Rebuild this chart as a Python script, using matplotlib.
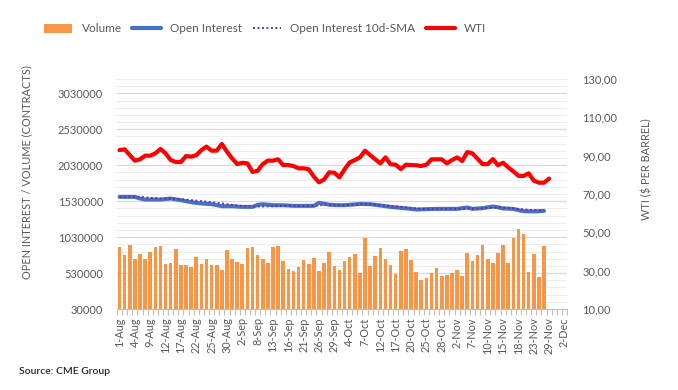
import matplotlib
matplotlib.use("Agg")
import matplotlib.pyplot as plt
import numpy as np
from matplotlib.ticker import FixedLocator, FuncFormatter
from matplotlib.patches import Patch
from matplotlib.lines import Line2D

plt.rcParams['font.family'] = ['Lato', 'DejaVu Sans']

# ---- data ----
n_categories = 88  # business days 1-Aug .. 2-Dec
tick_labels = ['1-Aug', '4-Aug', '9-Aug', '12-Aug', '17-Aug', '22-Aug', '25-Aug', '30-Aug',
               '2-Sep', '8-Sep', '13-Sep', '16-Sep', '21-Sep', '26-Sep', '29-Sep',
               '4-Oct', '7-Oct', '12-Oct', '17-Oct', '20-Oct', '25-Oct', '28-Oct',
               '2-Nov', '7-Nov', '10-Nov', '15-Nov', '18-Nov', '23-Nov', '29-Nov', '2-Dec']

volume_k = [887, 780, 919, 724, 794, 724, 822, 891, 905, 655,
            669, 863, 641, 641, 613, 752, 655, 724, 641, 641,
            572, 849, 724, 683, 655, 877, 891, 780, 724, 669,
            891, 905, 697, 586, 558, 613, 710, 655, 738, 558,
            669, 822, 627, 571, 697, 752, 794, 530, 1016, 627,
            766, 877, 724, 641, 516, 836, 863, 710, 544, 433,
            461, 530, 599, 488, 502, 530, 572, 488, 808, 697,
            780, 919, 724, 669, 808, 919, 669, 1016, 1141, 1072,
            544, 794, 474, 905]

open_interest_k = [1590, 1590, 1590, 1590, 1567, 1553, 1553, 1553, 1553, 1560,
                   1567, 1555, 1544, 1530, 1516, 1507, 1498, 1493, 1488, 1474,
                   1460, 1460, 1460, 1455, 1451, 1451, 1451, 1479, 1488, 1481,
                   1474, 1474, 1474, 1470, 1465, 1465, 1465, 1465, 1465, 1507,
                   1495, 1480, 1476, 1474, 1474, 1479, 1485, 1492, 1490, 1488,
                   1479, 1470, 1460, 1451, 1444, 1437, 1430, 1423, 1414, 1416,
                   1419, 1421, 1423, 1423, 1423, 1423, 1423, 1433, 1442, 1423,
                   1428, 1433, 1445, 1456, 1445, 1428, 1426, 1423, 1405, 1391,
                   1389, 1387, 1391, 1395]

oi_sma_k = [1590, 1590, 1590, 1590, 1590, 1583, 1576, 1572, 1567, 1567,
            1567, 1562, 1558, 1551, 1544, 1537, 1530, 1523, 1516, 1507,
            1498, 1488, 1479, 1470, 1460, 1458, 1456, 1456, 1456, 1458,
            1460, 1462, 1465, 1465, 1465, 1465, 1465, 1465, 1465, 1470,
            1484, 1484, 1479, 1476, 1474, 1479, 1484, 1488, 1488, 1488,
            1484, 1477, 1470, 1460, 1456, 1449, 1442, 1435, 1428, 1425,
            1423, 1423, 1423, 1423, 1423, 1423, 1423, 1425, 1428, 1428,
            1428, 1433, 1437, 1440, 1442, 1440, 1437, 1430, 1423, 1416,
            1409, 1407, 1405, 1405]

wti = [92.9, 93.3, 90.3, 87.4, 88.1, 90.0, 90.0, 91.2, 93.5, 91.2,
       87.7, 86.7, 86.7, 89.8, 89.5, 90.2, 92.9, 94.7, 92.6, 92.6,
       96.1, 92.1, 88.6, 85.6, 86.3, 86.0, 81.5, 82.1, 85.6, 87.4,
       87.4, 88.1, 85.1, 85.1, 84.6, 83.4, 83.4, 82.9, 79.0, 76.1,
       77.6, 81.3, 81.1, 78.7, 82.9, 86.5, 87.7, 89.1, 92.6, 90.3,
       88.1, 86.0, 89.1, 85.5, 85.3, 83.0, 85.3, 85.1, 85.0, 84.6,
       85.3, 88.1, 88.1, 88.1, 86.0, 87.7, 89.1, 87.2, 91.9, 91.2,
       88.4, 85.6, 85.6, 88.2, 85.0, 86.3, 83.9, 81.8, 79.5, 79.4,
       80.8, 77.0, 75.9, 75.9, 78.0]

# ---- styling ----
TXT = '#595959'
C_VOL = '#F79646'
C_OI = '#4472C4'
C_SMA = '#7030A0'
C_WTI = '#FF0000'

fig = plt.figure(figsize=(6.78, 3.90), dpi=100)
ax = fig.add_axes([117/678, 1-309/390, 450/678, 230/390])
ax2 = ax.twinx()

vol = np.array(volume_k) * 1000
oi = np.array(open_interest_k) * 1000
sma = np.array(oi_sma_k) * 1000

ax.bar(np.arange(len(vol)), vol - 30000, bottom=30000, width=0.7, color=C_VOL, zorder=2)
ax.plot(np.arange(len(oi)), oi, color=C_OI, lw=2.9, solid_capstyle='round', zorder=3)
ax.plot(np.arange(len(sma)), sma, color=C_SMA, lw=1.4, linestyle=(0, (1, 1.3)), zorder=4)
ax2.plot(np.arange(len(wti)), wti, color=C_WTI, lw=3.0, solid_capstyle='round',
         solid_joinstyle='round', zorder=5)

ax.set_xlim(-0.5, n_categories - 0.5)
ax.set_ylim(30000, 3230000)
ax.set_yticks(np.arange(30000, 3030001, 500000))
ax.yaxis.set_minor_locator(FixedLocator(np.arange(30000, 3230001, 100000)))
ax.yaxis.set_major_formatter(FuncFormatter(lambda v, p: f"{int(round(v))}"))
ax.grid(axis='y', which='major', color='#D9D9D9', lw=0.9, zorder=0)
ax.grid(axis='y', which='minor', color='#EDEDED', lw=0.8, zorder=0)
ax.set_axisbelow(True)

ax2.set_ylim(10, 130)
ax2.set_yticks(np.arange(10, 131, 20))
ax2.yaxis.set_major_formatter(FuncFormatter(lambda v, p: f"{v:.2f}".replace('.', ',')))

ax.set_xticks(np.arange(0, n_categories, 3))
ax.set_xticklabels(tick_labels, rotation=90, fontsize=7.8, color=TXT)
ax.xaxis.set_minor_locator(FixedLocator(np.arange(-0.5, n_categories, 1)))
ax.tick_params(axis='x', which='major', length=0, pad=6)
ax.tick_params(axis='x', which='minor', length=4, color='#BFBFBF', width=0.8)
ax.tick_params(axis='y', which='both', length=0, labelsize=8, labelcolor=TXT, pad=10)
ax2.tick_params(axis='y', which='both', length=0, labelsize=8, labelcolor=TXT, pad=11)

for a in (ax, ax2):
    for s in ('top', 'left', 'right', 'bottom'):
        a.spines[s].set_visible(False)
ax.spines['bottom'].set_visible(True)
ax.spines['bottom'].set_color('#BFBFBF')
ax.spines['bottom'].set_linewidth(0.8)

fig.text(27/678, 1-172/390, 'OPEN INTEREST / VOLUME (CONTRACTS)', rotation=90,
         ha='center', va='center', fontsize=7.9, color=TXT)
fig.text(647/678, 1-169/390, 'WTI ($ PER BARREL)', rotation=90,
         ha='center', va='center', fontsize=7.9, color=TXT)
fig.text(19/678, 1-371/390, 'Source: CME Group', ha='left', va='center',
         fontsize=7.5, color='#262626', fontweight='semibold')

handles = [Patch(facecolor=C_VOL, edgecolor='none'),
           Line2D([], [], color=C_OI, lw=3, solid_capstyle='round'),
           Line2D([], [], color=C_SMA, lw=1.4, linestyle=(0, (1, 1.3))),
           Line2D([], [], color=C_WTI, lw=3, solid_capstyle='round')]
labels = ['Volume', 'Open Interest', 'Open Interest 10d-SMA', 'WTI']
fig.legend(handles, labels, loc='center', bbox_to_anchor=(265/678, 1-29/390), ncol=4,
           frameon=False, fontsize=8.5, labelcolor=TXT, handlelength=2.4, handleheight=0.8,
           columnspacing=0.9, handletextpad=0.8)

fig.savefig('out.png', dpi=100)
